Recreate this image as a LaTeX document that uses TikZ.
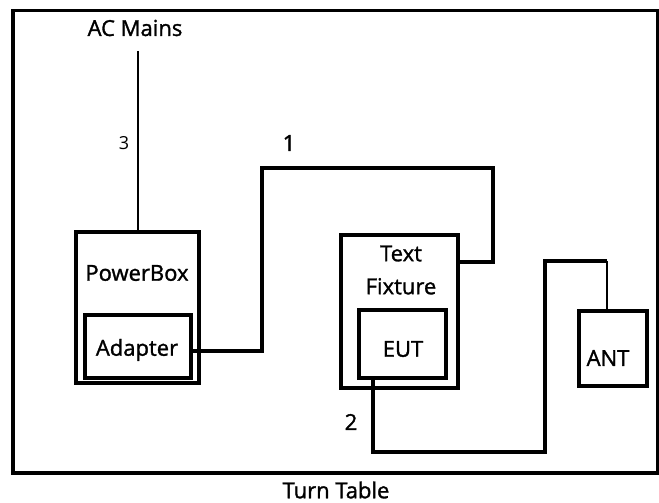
\documentclass[tikz,border=0pt]{standalone}
\usepackage{fontspec}
\setmainfont{Open Sans}
\newfontfamily\lblfont{Open Sans}[FakeBold=1.4]
\begin{document}
\begin{tikzpicture}[x=1pt,y=-1pt,
  box/.style={draw=black,line width=3.5pt,anchor=north west,inner sep=0pt},
  wire/.style={draw=black,line width=3.5pt},
  thinwire/.style={draw=black,line width=2.2pt},
  lbl/.style={font=\lblfont\fontsize{22}{33}\selectfont,inner sep=0pt,align=center},
  small/.style={font=\fontsize{18}{18}\selectfont,inner sep=0pt}]
\useasboundingbox (0,0) rectangle (659,503);
% turn table
\node[box,minimum width=645pt,minimum height=462pt] (tt) at (11,9) {};
\node[lbl] (ttl) at (336,490) {Turn Table};
% boxes
\node[box,minimum width=123pt,minimum height=151pt] (pb) at (74,230) {};
\node[box,minimum width=106pt,minimum height=63pt] (ad) at (83,313) {};
\node[box,minimum width=117pt,minimum height=153pt] (tf) at (339,233) {};
\node[box,minimum width=87pt,minimum height=68pt] (eut) at (357,308) {};
\node[box,minimum width=68pt,minimum height=75pt] (ant) at (577,309) {};
% labels
\node[lbl] (acm) at (135,28) {AC Mains};
\node[lbl] (pbl) at (137,273) {PowerBox};
\node[lbl] (adl) at (137,350) {Adapter};
\node[lbl] (tfl) at (401,270) {Text\\Fixture};
\node[lbl] (eutl) at (403,349) {EUT};
\node[lbl] (antl) at (608,358) {ANT};
\node[small] (n3) at (124,143) {3};
\node[lbl] (n1) at (289,143) {1};
\node[lbl] (n2) at (351,422) {2};
% wires
\coordinate (acend) at (138,51);
\draw[wire,line width=2.8pt] (acend) -- (pb.north -| acend);
\coordinate (k1) at (262,168);
\coordinate (k2) at (493,262);
\draw[wire] ([yshift=-4.5pt]ad.east) -| (k1) -| (k2) -- (tf.east |- k2);
\coordinate (m0) at (373,0);
\coordinate (m1) at (545,452);
\coordinate (m2) at (607,261);
\draw[wire] (eut.south -| m0) |- (m1) |- (m2);
\draw[thinwire] (m2) -- (ant.north -| m2);
\end{tikzpicture}
\end{document}
